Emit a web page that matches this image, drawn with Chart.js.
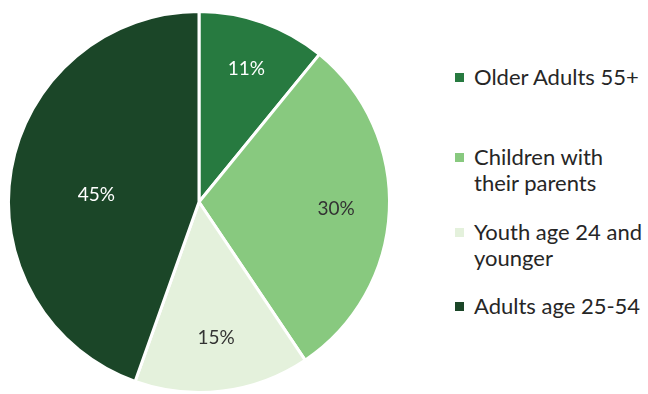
<!DOCTYPE html>
<html>
<head>
<meta charset="utf-8">
<script src="https://cdn.jsdelivr.net/npm/chart.js@4"></script>
<style>
  html, body { margin: 0; padding: 0; background: #fff; }
  #wrap { position: relative; width: 648px; height: 394px; }
  #pieBox { position: absolute; left: 0; top: 0; width: 400px; height: 394px; }
  #legend { position: absolute; left: 455px; top: 0; width: 193px; font-family: Lato, "Open Sans", sans-serif; font-size: 22px; color: #262626; }
  .item { position: absolute; left: 0; width: 172px; line-height: 26px; padding-left: 19px; }
  .box { position: absolute; left: 0; top: 9px; width: 9px; height: 9px; }
</style>
</head>
<body>
<div id="wrap">
  <div id="pieBox"><canvas id="pie"></canvas></div>
  <div id="legend"></div>
</div>
<script>
const categories = ["Older Adults 55+", "Children with their parents", "Youth age 24 and younger", "Adults age 25-54"];
const shares = [11, 30, 15, 45];
const sliceColors = ["#277a40", "#88c97f", "#e4f1dc", "#1b4628"];
const labelColors = ["#ffffff", "#333333", "#333333", "#ffffff"];
const labelRadius = [0.74, 0.72, 0.72, 0.54];
const labelTurn = [0, 0, 0, -6]; // degrees, nudges the big slice label like Excel's best fit
const legendTops = [64, 144, 219, 293];

// legend built by hand so the long names can wrap
const legend = document.getElementById("legend");
categories.forEach((name, i) => {
    const item = document.createElement("div");
    item.className = "item";
    item.style.top = legendTops[i] + "px";
    item.innerHTML = `<span class="box" style="background:${sliceColors[i]}"></span>${name}`;
    legend.appendChild(item);
});

const sliceLabels = {
    id: "sliceLabels",
    afterDatasetsDraw(chart) {
        const ctx = chart.ctx;
        const meta = chart.getDatasetMeta(0);
        ctx.save();
        ctx.font = "19px Lato, 'Open Sans', sans-serif";
        ctx.textAlign = "center";
        ctx.textBaseline = "middle";
        meta.data.forEach((arc, i) => {
            const mid = (arc.startAngle + arc.endAngle) / 2 + labelTurn[i] * Math.PI / 180;
            const r = arc.outerRadius * labelRadius[i];
            ctx.fillStyle = labelColors[i];
            ctx.fillText(shares[i] + "%", arc.x + Math.cos(mid) * r, arc.y + Math.sin(mid) * r);
        });
        ctx.restore();
    }
};

new Chart(document.getElementById("pie"), {
    type: "pie",
    data: {
        labels: categories,
        datasets: [{
            data: shares,
            backgroundColor: sliceColors,
            borderColor: "#ffffff",
            borderWidth: 3
        }]
    },
    options: {
        responsive: true,
        maintainAspectRatio: false,
        animation: false,
        layout: { padding: { top: 10, bottom: 0, left: 7, right: 9 } },
        plugins: {
            legend: { display: false },
            tooltip: { enabled: false }
        }
    },
    plugins: [sliceLabels]
});
</script>
</body>
</html>
